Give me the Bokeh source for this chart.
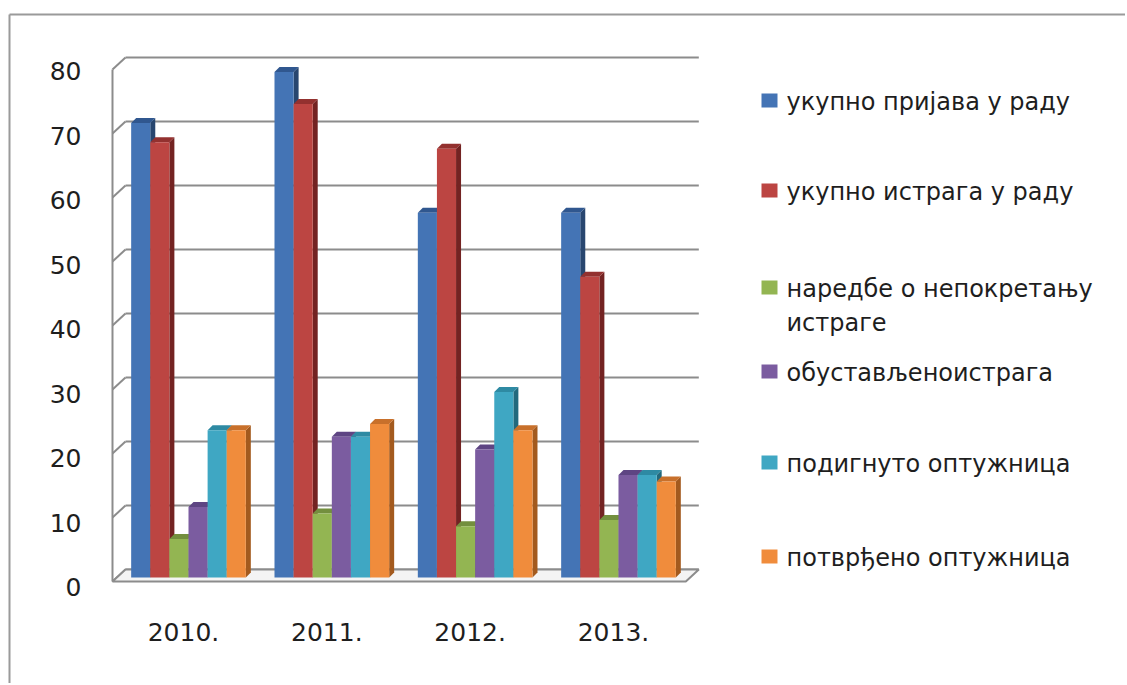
from bokeh.plotting import figure
from bokeh.models import Range1d
from bokeh.core.properties import value
from bokeh.embed import file_html
from bokeh.resources import INLINE

# ---------------- data ----------------
years = ["2010.", "2011.", "2012.", "2013."]
series_names = [
    "укупно пријава  у раду",
    "укупно истрага у раду",
    "наредбе о непокретању\nистраге",
    "обустављеноистрага",
    "подигнуто оптужница",
    "потврђено оптужница",
]
prijave = [71, 79, 57, 57]
istrage = [68, 74, 67, 47]
naredbe = [6, 10, 8, 9]
obustavljeno = [11, 22, 20, 16]
podignuto = [23, 22, 29, 16]
potvrdjeno = [23, 24, 23, 15]
series_values = [prijave, istrage, naredbe, obustavljeno, podignuto, potvrdjeno]
y_ticks = [0, 10, 20, 30, 40, 50, 60, 70, 80]

front_colors = ["#4474B5", "#BC4542", "#93B552", "#7B5CA0", "#3FA7C3", "#F08C3C"]
top_colors = ["#30578F", "#93312F", "#738F3E", "#5E4583", "#2E8AA3", "#C8702B"]
side_colors = ["#28466F", "#732322", "#5A7431", "#4A3566", "#22697D", "#A35A1E"]

# ---------------- layout (page pixel -> data) ----------------
W, H = 1125, 683
PX_X0, PX_PER_CAT = 116.33, 143.33   # page x of category origin, px per category
PX_Y0, PX_PER_UNIT = 577.0, 6.4      # page y of value 0 (bar plane), px per unit


def fx(px):
    return (px - PX_X0) / PX_PER_CAT


def fy(py):
    return (PX_Y0 - py) / PX_PER_UNIT


DX = 13 / PX_PER_CAT        # wall depth (x)
DY = 12 / PX_PER_UNIT       # wall depth (y)
BDX = 5 / PX_PER_CAT        # bar depth (x)
BDY = 5 / PX_PER_UNIT       # bar depth (y)
n_series = len(series_values)
BAR_W = 1.0 / (n_series + 1.5)
N = len(years)
YMAX = y_ticks[-1]
FONT = value("DejaVu Sans")
TXT = "#1E1E1E"

p = figure(width=W, height=H, output_backend="svg", toolbar_location=None,
           x_range=Range1d(fx(0), fx(W)), y_range=Range1d(fy(H), fy(0)),
           x_axis_location=None, y_axis_location=None, min_border=0,
           background_fill_color="white", border_fill_color="white")
p.grid.visible = False
p.outline_line_color = None

GRID = "#8C8C8C"

# outer frame (top + left)
p.segment(x0=[fx(9), fx(9)], y0=[fy(14), fy(14)], x1=[fx(W + 5), fx(9)], y1=[fy(14), fy(H + 5)],
          line_color="#9A9A9A", line_width=2)

# back-wall gridlines
back_x0 = 0 + 2 * DX / 3
back_x1 = N + 2 * DX / 3
front_x0 = 0 - DX / 3
front_x1 = N - DX / 3
p.segment(x0=[back_x0] * len(y_ticks), x1=[back_x1] * len(y_ticks),
          y0=[t + 2 * DY / 3 for t in y_ticks], y1=[t + 2 * DY / 3 for t in y_ticks],
          line_color=GRID, line_width=2)
# left-wall slanted grid lines
p.segment(x0=[front_x0] * len(y_ticks), x1=[back_x0] * len(y_ticks),
          y0=[t - DY / 3 for t in y_ticks], y1=[t + 2 * DY / 3 for t in y_ticks],
          line_color=GRID, line_width=2)
# left wall front edge
p.segment(x0=[front_x0], x1=[front_x0], y0=[-DY / 3], y1=[YMAX - DY / 3],
          line_color=GRID, line_width=2)
# floor
p.patch(x=[front_x0, front_x1, back_x1, back_x0], y=[-DY / 3, -DY / 3, 2 * DY / 3, 2 * DY / 3],
        fill_color="#F4F4F4", line_color=GRID, line_width=2)

# bars
for s, vals in enumerate(series_values):
    lefts = [i + 0.75 * BAR_W + s * BAR_W for i in range(N)]
    rights = [l + BAR_W for l in lefts]
    side_xs = [[r, r + BDX, r + BDX, r] for r in rights]
    side_ys = [[0, BDY, v + BDY, v] for v in vals]
    p.patches(xs=side_xs, ys=side_ys, fill_color=side_colors[s], line_color=None)
    top_xs = [[l, r, r + BDX, l + BDX] for l, r in zip(lefts, rights)]
    top_ys = [[v, v, v + BDY, v + BDY] for v in vals]
    p.patches(xs=top_xs, ys=top_ys, fill_color=top_colors[s], line_color=None)
    p.quad(left=lefts, right=rights, bottom=[0] * N, top=vals,
           fill_color=front_colors[s], line_color=None)

# y tick labels
p.text(x=[fx(81)] * len(y_ticks), y=[t * 1.008 - 1.56 for t in y_ticks],
       text=[str(t) for t in y_ticks], text_align="right", text_baseline="middle",
       text_font=FONT, text_font_size="25px", text_color=TXT)
# category labels
p.text(x=[i + 0.5 - fx(121.33) for i in range(N)], y=[fy(631)] * N, text=years,
       text_align="center", text_baseline="middle",
       text_font=FONT, text_font_size="25px", text_color=TXT)

# legend
item_py = [101, 191, 288, 372, 463, 557]
leg_x, leg_y, leg_t = [], [], []
for name, py in zip(series_names, item_py):
    for k, line in enumerate(name.split("\n")):
        leg_x.append(fx(786))
        leg_y.append(fy(py + 34 * k))
        leg_t.append(line)
p.quad(left=[fx(761)] * n_series, right=[fx(777)] * n_series,
       top=[fy(py - 8) for py in item_py], bottom=[fy(py + 6) for py in item_py],
       fill_color=front_colors, line_color=None)
p.text(x=leg_x, y=leg_y, text=leg_t, text_align="left", text_baseline="middle",
       text_font=FONT, text_font_size="24px", text_color=TXT)

open("out.html", "w").write(file_html(p, INLINE))
